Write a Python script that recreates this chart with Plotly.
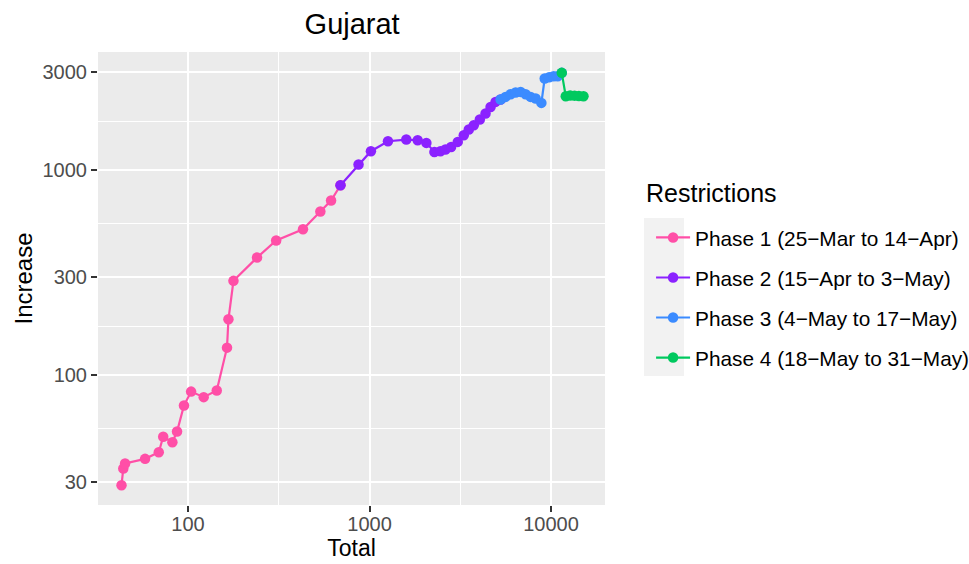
import plotly.graph_objects as go

# Cumulative total cases vs. daily increase, Gujarat, by lockdown phase
phase_names = [
    "Phase 1 (25\u2212Mar to 14\u2212Apr)",
    "Phase 2 (15\u2212Apr to 3\u2212May)",
    "Phase 3 (4\u2212May to 17\u2212May)",
    "Phase 4 (18\u2212May to 31\u2212May)",
]
phase_colors = ["#FF4FA7", "#8B22FF", "#3B8BFF", "#00C95F"]

phase1_total = [43, 44, 45, 58, 69, 73, 82, 87, 95, 104, 122, 144, 164, 167,
                178, 240, 306, 430, 536, 614]
phase1_increase = [29, 35, 37, 39, 42, 50, 47, 53, 71, 83, 78, 84, 136, 187,
                   288, 374, 453, 514, 628, 710]

phase2_total = [692, 870, 1018, 1264, 1595, 1842, 2057, 2278, 2459, 2620, 2816,
                3063, 3306, 3524, 3754, 4053, 4358, 4645, 4948]
phase2_increase = [843, 1063, 1235, 1382, 1408, 1397, 1356, 1225, 1235, 1259,
                   1296, 1371, 1478, 1576, 1654, 1764, 1886, 2031, 2149]

phase3_total = [5274, 5619, 5991, 6383, 6802, 7248, 7722, 8232, 8851,
                9231, 9772, 10349, 10889]
phase3_increase = [2207, 2273, 2343, 2388, 2404, 2343, 2273, 2233, 2125,
                   2795, 2836, 2868, 2868]

phase4_total = [11460, 12057, 12750, 13480, 14250, 15100]
phase4_increase = [2977, 2291, 2310, 2305, 2295, 2291]

totals = [phase1_total, phase2_total, phase3_total, phase4_total]
increases = [phase1_increase, phase2_increase, phase3_increase, phase4_increase]

x_ticks = [100, 1000, 10000]
y_ticks = [30, 100, 300, 1000, 3000]
x_minor = [316.23, 3162.3]
y_minor = [54.77, 173.2, 547.7, 1732]

FONT = "Liberation Sans, Arial, sans-serif"

fig = go.Figure()
for i, name in enumerate(phase_names):
    xs = list(totals[i])
    ys = list(increases[i])
    # each phase's line runs on to the first day of the following phase
    if i + 1 < len(totals):
        xs.append(totals[i + 1][0])
        ys.append(increases[i + 1][0])
    fig.add_trace(go.Scatter(
        x=xs, y=ys, mode="lines+markers", name=name,
        legendgroup=f"g{i}",
        line=dict(color=phase_colors[i], width=2.2),
        marker=dict(color=phase_colors[i], size=10.5),
    ))

# grey key background behind the legend glyphs
fig.add_shape(type="rect", xref="paper", yref="paper",
              x0=1.0769, x1=1.1558, y0=0.2848, y1=0.6336,
              fillcolor="#F2F2F2", line=dict(width=0), layer="below")

# legend heading
fig.add_annotation(text="Restrictions", xref="paper", yref="paper",
                   x=1.0769, y=0.6887, xanchor="left", yanchor="middle",
                   showarrow=False, font=dict(family=FONT, size=25, color="#000000"))

axis_common = dict(
    type="log", automargin=False,
    showgrid=True, gridcolor="#FFFFFF", gridwidth=2,
    ticks="outside", ticklen=6, tickwidth=2, tickcolor="#333333",
    tickfont=dict(family=FONT, size=20, color="#4D4D4D"),
    showline=False, zeroline=False,
)

fig.update_layout(
    width=969, height=564,
    margin=dict(l=98, r=364, t=52, b=59, autoexpand=False),
    paper_bgcolor="#FFFFFF", plot_bgcolor="#EBEBEB",
    font=dict(family=FONT, color="#000000"),
    title=dict(text="Gujarat", x=0.3634, xanchor="center", y=0.958,
               yanchor="middle", font=dict(family=FONT, size=29, color="#000000")),
    xaxis=dict(
        **axis_common,
        range=[1.504, 4.2975],
        tickmode="array", tickvals=x_ticks, ticktext=[str(v) for v in x_ticks],
        ticklabelstandoff=-5,
        minor=dict(tickmode="array", tickvals=x_minor, showgrid=True,
                   gridcolor="#FFFFFF", gridwidth=1, ticks=""),
        title=dict(text="Total", font=dict(family=FONT, size=23), standoff=2),
    ),
    yaxis=dict(
        **axis_common,
        range=[1.366, 3.5756],
        tickmode="array", tickvals=y_ticks, ticktext=[str(v) for v in y_ticks],
        minor=dict(tickmode="array", tickvals=y_minor, showgrid=True,
                   gridcolor="#FFFFFF", gridwidth=1, ticks=""),
        title=dict(text="Increase", font=dict(family=FONT, size=24), standoff=3),
    ),
    legend=dict(
        font=dict(family=FONT, size=20.8, color="#000000"),
        xref="container", yref="container",
        x=0.6719, xanchor="left", y=0.6145, yanchor="top",
        itemwidth=34, tracegroupgap=10, bgcolor="rgba(0,0,0,0)",
    ),
    showlegend=True,
)

fig.write_html("out.html")
